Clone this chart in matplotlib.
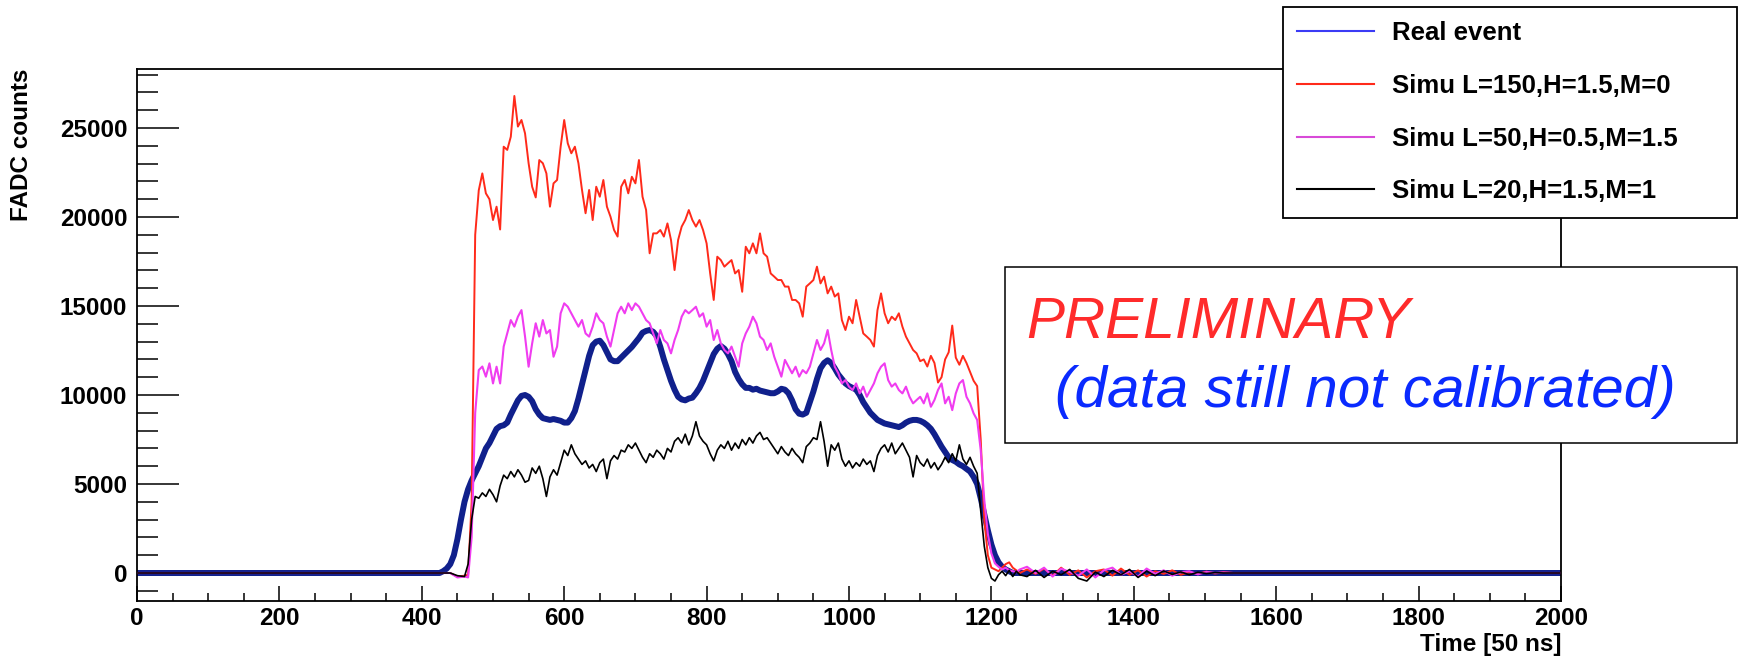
import numpy as np
import matplotlib
matplotlib.use("Agg")
import matplotlib.pyplot as plt
from matplotlib.lines import Line2D
from matplotlib.patches import Rectangle
from matplotlib.ticker import MultipleLocator

plt.rcParams['font.family'] = ['Liberation Sans', 'DejaVu Sans']

series_labels = ["Real event", "Simu L=150,H=1.5,M=0",
                 "Simu L=50,H=0.5,M=1.5", "Simu L=20,H=1.5,M=1"]

# ---- measured pulse (FADC counts), sampled every 5 time bins ----
t_real = np.arange(420, 1235, 5)
real_event = [
    0, 0, 100, 250, 500, 1000, 1900, 3000, 4000, 4700,
    5200, 5600, 6000, 6500, 7000, 7300, 7700, 8100, 8250, 8300,
    8450, 8900, 9300, 9700, 9950, 10000, 9900, 9650, 9200, 8900,
    8700, 8650, 8600, 8650, 8600, 8550, 8450, 8450, 8700, 9100,
    9800, 10600, 11400, 12200, 12800, 13000, 13050, 12800, 12400, 12000,
    11900, 11900, 12100, 12300, 12500, 12700, 12950, 13200, 13500, 13600,
    13650, 13550, 13300, 12700, 12000, 11400, 10800, 10300, 9900, 9750,
    9700, 9800, 9850, 10100, 10400, 10800, 11300, 11800, 12300, 12600,
    12750, 12600, 12300, 11900, 11300, 10900, 10600, 10400, 10400, 10300,
    10350, 10250, 10200, 10150, 10100, 10100, 10200, 10350, 10300, 10100,
    9700, 9200, 8950, 8900, 9000, 9600, 10200, 10900, 11500, 11800,
    11950, 11800, 11500, 11150, 10900, 10650, 10500, 10400, 10300, 10000,
    9600, 9300, 9000, 8800, 8600, 8500, 8400, 8350, 8300, 8250,
    8200, 8300, 8450, 8550, 8600, 8600, 8550, 8450, 8300, 8100,
    7800, 7450, 7100, 6800, 6500, 6350, 6250, 6100, 6000, 5850,
    5700, 5400, 5000, 4200, 3300, 2400, 1600, 1000, 600, 350,
    200, 100, 0,
]

# ---- simulated pulses, sampled every 5 time bins ----
t_sim = np.arange(460, 1245, 5)
sim_l150 = [
    -150, -100, 4000, 19000, 21500, 22450, 21330, 21000, 19830, 20580,
    19300, 23950, 23770, 24510, 26800, 25080, 25450, 24700, 23020, 21700,
    21100, 23200, 23020, 22450, 20580, 21890, 22080, 23950, 25450, 24140,
    23580, 23950, 23020, 21520, 20210, 21520, 19830, 21700, 21140, 22080,
    20580, 20020, 19270, 18900, 21700, 22080, 21330, 22260, 21890, 23200,
    21140, 20400, 17960, 19080, 19080, 19270, 18900, 19640, 18710, 17020,
    18710, 19460, 19830, 20390, 19830, 19460, 19830, 19270, 18520, 16830,
    15340, 17770, 17580, 17210, 17400, 17580, 16830, 17020, 15800, 18330,
    17960, 18520, 17960, 19080, 17960, 17770, 16830, 16650, 16460, 16460,
    16090, 16090, 15340, 15340, 15150, 14400, 16090, 16270, 16460, 17210,
    16270, 16650, 15710, 16090, 15530, 15710, 14210, 13650, 14400, 14030,
    15340, 14400, 13460, 13280, 13090, 12720, 14770, 15710, 14590, 14030,
    14400, 14210, 14590, 13840, 13280, 12900, 12530, 12340, 11900, 12000,
    11600, 12200, 11800, 10700, 11000, 12000, 12400, 13900, 12100, 11700,
    12200, 11800, 11300, 10800, 10500, 7500, 3000, 1000, 300, 200,
    100, 300, 500, 600, 300, 150, 0,
]
sim_l50 = [
    -200, -250, 2000, 9000, 11400, 11600, 11030, 11780, 10650, 11590,
    10650, 12720, 13460, 14210, 13840, 14400, 14770, 13280, 11590, 12900,
    14030, 13280, 14210, 13460, 13650, 12150, 12720, 14590, 15150, 14960,
    14590, 14210, 13840, 14210, 13460, 13280, 13840, 14590, 14210, 14030,
    13280, 12720, 13650, 14590, 14960, 14590, 15150, 14770, 15150, 14960,
    14590, 14210, 14030, 13460, 12900, 13650, 13090, 12900, 12340, 13090,
    13650, 14400, 14770, 14590, 14770, 14960, 14400, 14590, 13840, 14210,
    13090, 13650, 12900, 12530, 12340, 12720, 12150, 11590, 12900, 13460,
    13840, 14400, 14030, 13280, 13090, 12530, 12900, 12150, 11590, 11030,
    11970, 11590, 11220, 11590, 11030, 11400, 11220, 11590, 12340, 13090,
    12530, 12900, 13650, 12530, 11590, 11220, 10650, 10840, 10470, 10280,
    10650, 10090, 10470, 9900, 10280, 10650, 11220, 11590, 11780, 10840,
    10470, 10650, 10280, 10090, 10470, 9900, 9530, 9720, 9900, 9530,
    10090, 9340, 9720, 10280, 10650, 9530, 9900, 9150, 10090, 10650,
    10840, 9900, 9530, 8970, 8600, 6900, 4100, 2200, 1100, 540,
    350, 200, 300, 150, 100, 50, 200,
]
sim_l20 = [
    -200, 500, 3000, 4300, 4200, 4500, 4300, 4700, 4400, 4000,
    4900, 5500, 5300, 5700, 5400, 5800, 5500, 5100, 5200, 5900,
    5600, 6000, 5300, 4300, 5400, 5800, 5500, 6200, 6900, 6600,
    7200, 6700, 6400, 6100, 6300, 5900, 6100, 5700, 6200, 6400,
    5300, 6300, 6600, 6400, 6900, 6800, 7200, 7000, 7300, 6900,
    6500, 6200, 6700, 6500, 6900, 6700, 6400, 7000, 6800, 7400,
    7600, 7300, 7800, 7200, 7700, 8500, 7700, 7400, 7200, 6700,
    6300, 6900, 7200, 7000, 7400, 6900, 7300, 7000, 7500, 7200,
    7600, 7300, 7700, 7900, 7500, 7600, 7300, 7000, 6700, 7100,
    6800, 6600, 7000, 6700, 6500, 6200, 7100, 7300, 7600, 7500,
    8500, 7400, 6000, 7200, 6900, 7300, 6400, 6000, 6300, 5900,
    6200, 6000, 6400, 6100, 6300, 5700, 6600, 7000, 7200, 6800,
    7300, 6700, 7000, 7300, 6900, 6500, 5400, 6600, 6200, 6000,
    6400, 5900, 6200, 5800, 6100, 6500, 6200, 6700, 6300, 7200,
    6400, 6100, 6500, 6000, 5600, 3500, 1500, 300, -300, -450,
    -100, 100, -150, 150, -200, 100, -100,
]

# ---- baseline before the pulse ----
t_head = [0, 440, 450]
head_l150 = [0, 0, -200]
head_l50 = [0, 0, -250]
head_l20 = [0, 0, -150]

# ---- baseline after the pulse ----
t_tail = [1250, 1262, 1274, 1286, 1298, 1310, 1322, 1334, 1346, 1358,
          1370, 1382, 1394, 1406, 1418, 1430, 1442, 1454, 1466, 1478,
          1490, 1502, 1514, 1526, 1540, 2000]
tail_l150 = [200, -50, 250, -150, 300, -100, 150, -250, 100, 200,
             -150, 250, -100, 150, -200, 100, -50, 150, -100, 50,
             -50, 80, -30, 40, 0, 0]
tail_l50 = [350, 0, 300, -200, 250, 50, -150, 200, -250, 150,
            300, -100, 100, -200, 250, -50, 150, -150, 50, 100,
            -80, 60, 0, 30, 0, 0]
tail_l20 = [-200, 150, -250, 100, -100, 200, -300, -450, 50, -200,
            150, -100, 200, -250, 100, -150, 120, -80, 60, -100,
            40, -30, 20, 0, 0, 0]


def full_trace(head_t, head_v, t, v, tail_t, tail_v):
    return (np.concatenate([head_t, t, tail_t]),
            np.concatenate([head_v, v, tail_v]))


x_real = np.concatenate([[0], t_real, [2000]])
y_real = np.concatenate([[0], real_event, [0]])
x150, y150 = full_trace(t_head, head_l150, t_sim, sim_l150, t_tail, tail_l150)
x50, y50 = full_trace(t_head, head_l50, t_sim, sim_l50, t_tail, tail_l50)
x20, y20 = full_trace(t_head, head_l20, t_sim, sim_l20, t_tail, tail_l20)

W, H = 1741, 661
fig = plt.figure(figsize=(W / 100, H / 100), dpi=100)
ax = fig.add_axes([137 / W, 60 / H, 1424 / W, 532 / H])

c_real = "#10208c"
c_l150 = "#ff2a1a"
c_l50 = "#f03cf0"
c_l20 = "#000000"

ax.plot(x_real, y_real, color=c_real, lw=4.3, solid_joinstyle="round", zorder=2)
ax.plot(x150, y150, color=c_l150, lw=1.4, zorder=3)
ax.plot(x50, y50, color=c_l50, lw=1.5, zorder=4)
ax.plot(x20, y20, color=c_l20, lw=1.2, zorder=5)

ax.set_xlim(0, 2000)
ax.set_ylim(-1573, 28315)

ax.xaxis.set_major_locator(MultipleLocator(200))
ax.xaxis.set_minor_locator(MultipleLocator(50))
ax.yaxis.set_major_locator(MultipleLocator(5000))
ax.yaxis.set_minor_locator(MultipleLocator(1000))

ax.tick_params(axis="both", which="both", direction="in", top=False, right=False,
               width=1.1, colors="black")
ax.tick_params(axis="y", which="major", length=30, pad=7)
ax.tick_params(axis="y", which="minor", length=15)
ax.tick_params(axis="x", which="major", length=11, pad=4)
ax.tick_params(axis="x", which="minor", length=5.5)
for lab in ax.get_xticklabels() + ax.get_yticklabels():
    lab.set_fontsize(17.5)
    lab.set_fontweight("bold")
for sp in ax.spines.values():
    sp.set_linewidth(1.3)

ax.set_xlabel("Time [50 ns]", fontsize=17.5, fontweight="bold", ha="right")
ax.xaxis.set_label_coords(1.0, -0.060)
ax.set_ylabel("FADC counts", fontsize=17.5, fontweight="bold", ha="right", va="center")
ax.yaxis.set_label_coords(-0.081, 1.0)

handles = [Line2D([], [], color="#3b3bf5", lw=1.5),
           Line2D([], [], color=c_l150, lw=1.5),
           Line2D([], [], color="#d84ad8", lw=1.5),
           Line2D([], [], color=c_l20, lw=1.5)]
leg = ax.legend(handles, series_labels, loc="upper left",
                bbox_to_anchor=(1283 / W, 1 - 218 / H, (1737 - 1283) / W, 211 / H),
                bbox_transform=fig.transFigure, mode="expand", borderaxespad=0,
                prop={"size": 18.5, "weight": "bold"}, handlelength=3.0,
                handletextpad=0.7, borderpad=0.55, labelspacing=1.12,
                fancybox=False, framealpha=1, edgecolor="black")
leg.get_frame().set_linewidth(1.3)
leg.set_zorder(10)

# annotation box
box = Rectangle((1005 / W, 1 - 443 / H), (1737 - 1005) / W, (443 - 267) / H,
                transform=fig.transFigure, facecolor="white", edgecolor="black",
                lw=1.1, zorder=11)
fig.add_artist(box)
fig.text(1026 / W, 1 - 338 / H, "PRELIMINARY", color="#ff2b2b", fontsize=41,
         style="italic", va="baseline", ha="left", zorder=12)
fig.text(1055 / W, 1 - 407 / H, "(data still not calibrated)", color="#0a2aff",
         fontsize=42, style="italic", va="baseline", ha="left", zorder=12)

fig.savefig("out.png", dpi=100, facecolor="white")
